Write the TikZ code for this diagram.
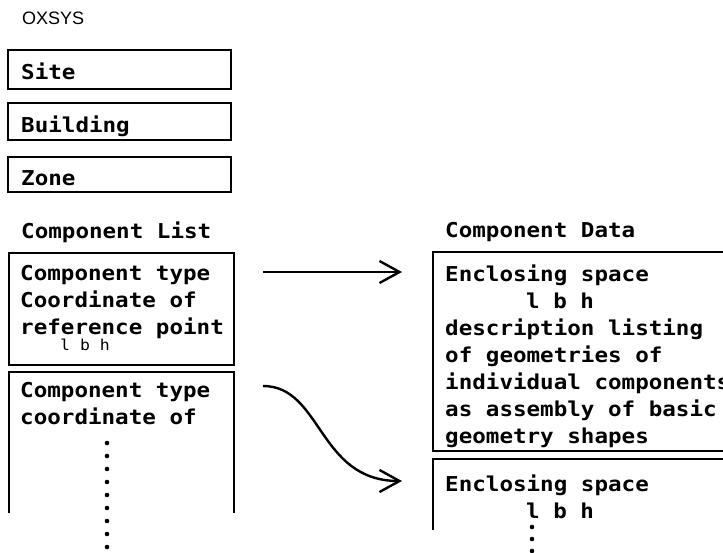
\documentclass[tikz,border=0pt]{standalone}
\usepackage{fontspec}
\setmonofont{DejaVu Sans Mono}[FakeStretch=1.10]
\setsansfont{Liberation Sans}
\usetikzlibrary{arrows.meta}

\newcommand{\levelbox}[4]{
    \draw[frame] (8,#1) rectangle (231,#2);
    \node[txt] (#3) at (21,{#1+13}) {#4};
}

\begin{document}
\begin{tikzpicture}[x=1pt,y=-1pt,
    frame/.style={line width=2.6pt},
    txt/.style={anchor=north west, inner sep=0pt, align=left,
      font=\ttfamily\bfseries\fontsize{20.5}{27}\selectfont},
    small/.style={anchor=north west, inner sep=0pt,
      font=\ttfamily\fontsize{15}{15}\selectfont},
    link/.style={line width=2.4pt,
      -{Straight Barb[length=20pt,width=22pt,line width=2.4pt]}}]

  \useasboundingbox (0,0) rectangle (723,552);
  \clip (0,0) rectangle (723,552);

  \node[anchor=north west, inner sep=0pt,
    font=\sffamily\fontsize{18}{18}\selectfont] (oxsys) at (22,12) {OXSYS};

  % (top, bottom, name, text)
  \levelbox{50}{89}{site}{Site}
  \levelbox{103}{140}{building}{Building}
  \levelbox{157}{192}{zone}{Zone}

  \node[txt] (complist) at (21,222) {Component List};
  \node[txt] (compdata) at (445,222) {Component Data};

  % component list
  \draw[frame] (9,253) rectangle (234,365);
  \node[txt] (listA) at (20,265) {Component type\\Coordinate of\\reference point};
  \node[small] (lbhA) at (60,339) {l b h};
  \draw[frame] (9,513) -- (9,372) -- (234,372) -- (234,513);
  \node[txt] (listB) at (20,382) {Component type\\coordinate of};
  \foreach \k in {0,...,8}
    \fill (107,{443+13*\k}) circle (2.3pt);

  % component data
  \draw[frame] (433,252) rectangle (740,451);
  \node[txt] (dataA) at (445,265)
    {Enclosing space\\\hspace*{3.95em}l b h\\description listing\\of geometries of\\individual components\\as assembly of basic\\geometry shapes};
  \draw[frame] (433,530) -- (433,459) -- (740,459);
  \node[txt] (dataB) at (445,475) {Enclosing space\\\hspace*{3.95em}l b h};
  \foreach \k in {0,...,2}
    \fill (532,{527+12*\k}) circle (2.3pt);

  \coordinate (fromA) at (263,272);
  \coordinate (toA) at (402,272);
  \coordinate (fromB) at (263,386);
  \coordinate (toB) at (402,481);
  \draw[link] (fromA) -- (toA);
  \draw[link] (fromB) .. controls (322,386) and (318,481) .. (toB);

\end{tikzpicture}
\end{document}
